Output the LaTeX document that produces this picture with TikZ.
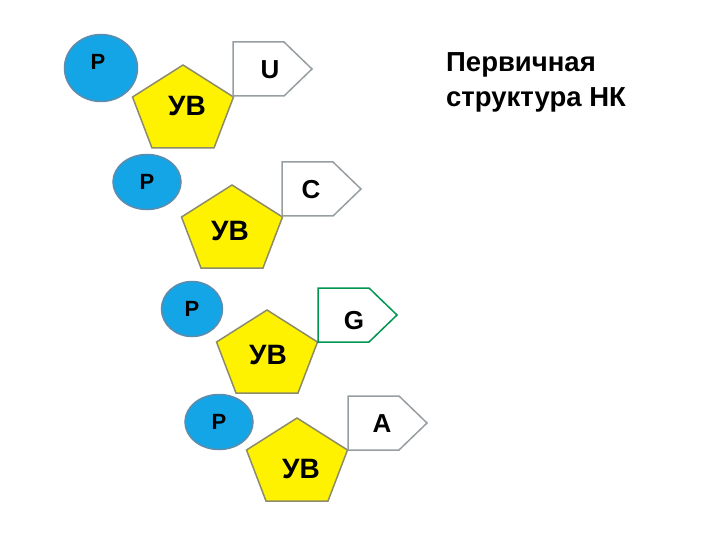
\documentclass[tikz,border=0pt]{standalone}
\usepackage{fontspec}
\setmainfont{Liberation Sans}
\usetikzlibrary{shapes.geometric}
\definecolor{phosblue}{RGB}{20,165,230}
\definecolor{phosedge}{RGB}{95,140,170}
\definecolor{sugaredge}{RGB}{140,140,105}
\definecolor{baseedge}{RGB}{150,158,162}
\definecolor{guanedge}{RGB}{0,150,80}
% sugar ring, drawn from its top corner
\newcommand{\sugarring}[2]{\draw[sugar] (#1,#2) -- ++(-50.5,32) -- ++(19.5,51) -- ++(62,0) -- ++(19.5,-51) -- cycle;}
% base tag, drawn from its lower left corner
\newcommand{\basetag}[3]{\draw[base,draw=#3] (#1,#2) -- ++(0,-54) -- ++(51,0) -- ++(28,27) -- ++(-28,27) -- cycle;}

\begin{document}
\begin{tikzpicture}[x=1pt,y=-1pt,
  phos/.style={draw=phosedge,line width=1.5pt,fill=phosblue,ellipse,inner sep=0pt,
    font=\fontsize{22}{26}\selectfont\bfseries},
  sugar/.style={draw=sugaredge,line width=1.5pt,fill=yellow},
  base/.style={line width=1.5pt,fill=white},
  sugartext/.style={font=\fontsize{28}{32}\selectfont\bfseries},
  basetext/.style={font=\fontsize{26}{30}\selectfont\bfseries}]
\useasboundingbox (0,0) rectangle (720,540);

% nucleotide 1
\node[phos,minimum width=73pt,minimum height=67pt] (p1) at (101,68) {};
\node[font=\fontsize{22}{26}\selectfont\bfseries] (p1t) at (98,62) {P};
\sugarring{183}{65}
\node[sugartext] (s1) at (187,106) {УВ};
\basetag{233}{96}{baseedge}
\node[basetext] (b1) at (270,70) {U};

% nucleotide 2
\node[phos,minimum width=68pt,minimum height=55pt] (p2) at (147,182) {P};
\sugarring{232}{185}
\node[sugartext] (s2) at (230,231) {УВ};
\basetag{282}{216}{baseedge}
\node[basetext] (b2) at (311,190) {C};

% nucleotide 3
\node[phos,minimum width=61pt,minimum height=55pt] (p3) at (192,309) {P};
\sugarring{267}{310}
\node[sugartext] (s3) at (268,355) {УВ};
\basetag{318}{342}{guanedge}
\node[basetext] (b3) at (354,321) {G};

% nucleotide 4
\node[phos,minimum width=68pt,minimum height=55pt] (p4) at (219,422) {P};
\sugarring{297}{418}
\node[sugartext] (s4) at (301,469) {УВ};
\basetag{348}{450}{baseedge}
\node[basetext] (b4) at (382,424) {A};

% caption
\node[anchor=north west,align=left,inner sep=0pt,
  font=\fontsize{27.5}{35}\selectfont\bfseries] (title) at (446,52) {Первичная\\структура НК};
\end{tikzpicture}
\end{document}
